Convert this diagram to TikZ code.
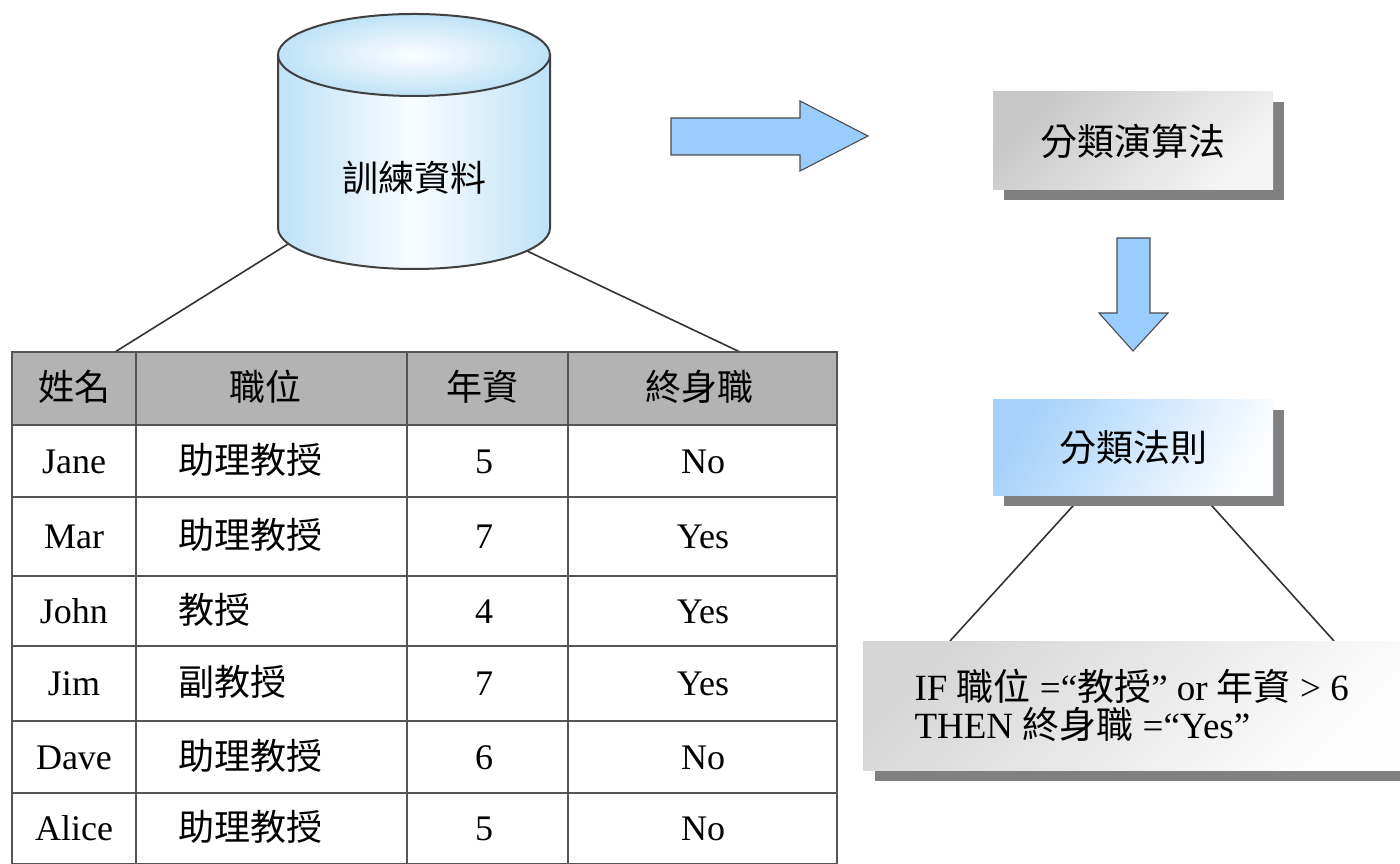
\documentclass[tikz,border=0pt]{standalone}
\usepackage{fontspec}
\setmainfont{Liberation Serif}
\newfontfamily\cjk{Noto Sans CJK TC}
\usetikzlibrary{shadows}
\pgfdeclarelayer{bg}
\pgfsetlayers{bg,main}
\definecolor{arrowblue}{HTML}{99CCFF}
\definecolor{edgeclr}{HTML}{555555}
\definecolor{lineclr}{HTML}{333333}
\definecolor{cylblue}{HTML}{BFE2F7}
\definecolor{hdrgray}{HTML}{B3B3B3}
\definecolor{ruleblue}{HTML}{A6D2FA}
\begin{document}
\begin{tikzpicture}[x=1pt,y=1pt,
  lat/.style={font=\fontsize{36}{40}\selectfont, inner sep=0pt},
  cj/.style={font=\cjk\fontsize{36}{40}\selectfont, inner sep=0pt},
  gridline/.style={draw=edgeclr, line width=2.6pt},
  conn/.style={draw=lineclr, line width=1.6pt},
  fatarrow/.style={fill=arrowblue, draw=black!70, line width=1.1pt, line join=miter},
  sbox/.style={inner sep=0pt, drop shadow={shadow xshift=11pt, shadow yshift=-10pt, fill=black!50, opacity=1}},
]
\useasboundingbox (0,0) rectangle (1400,864);

% ---------- cylinder ----------
\path[draw=black!75, line width=2pt, left color=cylblue, right color=cylblue, middle color=white!90!cylblue]
  (278,809) -- (278,636) arc[start angle=180, end angle=360, x radius=136, y radius=41] -- (550,809) -- cycle;
\path[draw=black!75, line width=2pt, inner color=white!95!cylblue, outer color=cylblue]
  (414,809) ellipse[x radius=136, y radius=41];
\node[cj] (db) at (414,686) {訓練資料};
\coordinate (dbL) at (288,620);
\coordinate (dbR) at (527,613);

% ---------- table ----------
\fill[hdrgray] (12,512) rectangle (837,439);
\foreach \yy in {439,367,288,218,143,71}
  \draw[gridline] (12,\yy) -- (837,\yy);
\foreach \xx in {136,407,568}
  \draw[gridline] (\xx,512) -- (\xx,0);
\draw[gridline] (12,0) rectangle (837,512);
\coordinate (tabL) at (115,512);
\coordinate (tabR) at (740,512);

\node[cj, anchor=base] (h1) at (74,463) {姓名};
\node[cj, anchor=base] (h2) at (265,463) {職位};
\node[cj, anchor=base] (h3) at (482,463) {年資};
\node[cj, anchor=base] (h4) at (699,463) {終身職};

\foreach \nm/\pos/\yr/\ten/\by [count=\i] in {Jane/助理教授/5/No/390, Mar/助理教授/7/Yes/315, John/教授/4/Yes/240, Jim/副教授/7/Yes/168, Dave/助理教授/6/No/94, Alice/助理教授/5/No/23} {
  \node[lat, anchor=base] (n\i) at (74,\by) {\nm};
  \node[cj, anchor=base west] (p\i) at (178,\by) {\pos};
  \node[lat, anchor=base] (y\i) at (484,\by) {\yr};
  \node[lat, anchor=base] (t\i) at (703,\by) {\ten};
}

% ---------- block arrows ----------
\path[fatarrow] (671,746) -- (800,746) -- (800,763) -- (868,728) -- (800,693) -- (800,709) -- (671,709) -- cycle;
\path[fatarrow] (1117,626) -- (1150,626) -- (1150,551) -- (1168,551) -- (1133,513) -- (1099,551) -- (1117,551) -- cycle;

% ---------- boxes ----------
\node[sbox, minimum width=280pt, minimum height=98pt, top color=black!22, bottom color=black!4, shading angle=45, font=\cjk\fontsize{37}{40}\selectfont]
  (algo) at (1133,723) {分類演算法};
\node[sbox, minimum width=280pt, minimum height=96pt, top color=ruleblue, bottom color=white!94!ruleblue, shading angle=60, font=\cjk\fontsize{37}{40}\selectfont]
  (rules) at (1133,416) {分類法則};
\node[inner sep=0pt, drop shadow={shadow xshift=12pt, shadow yshift=-11pt, fill=black!50, opacity=1},
  minimum width=537pt, minimum height=129pt, top color=black!16, bottom color=black!1, shading angle=45,
  inner xsep=46pt, align=left, font=\fontsize{37}{38}\selectfont, anchor=north west]
  (rule) at (863,223) {IF {\cjk 職位} =“{\cjk 教授}” or {\cjk 年資} > 6\\THEN {\cjk 終身職} =“Yes”};
\coordinate (rsL) at (1082,368);
\coordinate (rsR) at (1203,368);
\coordinate (rbL) at (950,223);
\coordinate (rbR) at (1334,223);

% ---------- connectors (behind) ----------
\begin{pgfonlayer}{bg}
  \draw[conn] (dbL) -- (tabL);
  \draw[conn] (dbR) -- (tabR);
  \draw[conn] (rsL) -- (rbL);
  \draw[conn] (rsR) -- (rbR);
\end{pgfonlayer}
\end{tikzpicture}
\end{document}
